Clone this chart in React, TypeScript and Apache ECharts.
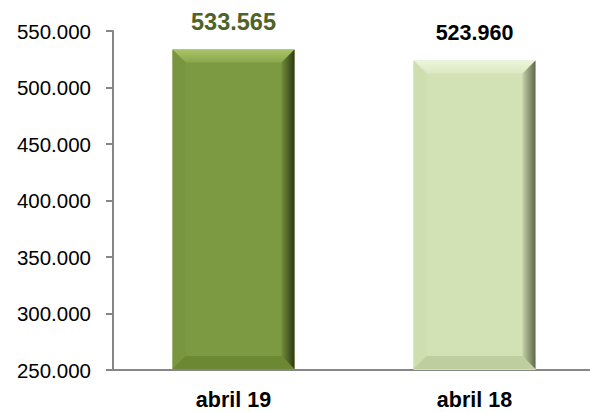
import React, { useEffect, useRef } from "react";
import * as echarts from "echarts";

const categories = ["abril 19", "abril 18"];
const values = [533565, 523960];
const yTicks = { min: 250000, max: 550000, interval: 50000 };

const barColors = ["#7C9A41", "#D3E2B5"];
const labelColors = ["#4F6228", "#000000"];
const labelSizes = [23.5, 21.5];
const bevelTop = [
  ["#A9C567", "#8AA74D"],
  ["#EDF5DA", "#DCE9C3"],
];
const bevelRight = [
  ["#718D39", "#2E3A14"],
  ["#C3D1A7", "#5E684C"],
];
const bevelBottom = ["#6C8832", "#BFCE9F"];
const bevelLeft = ["#79963F", "#CFDEAF"];

const FONT = "'Liberation Sans', Arial, sans-serif";

const fmt = (v: number) => {
  const s = Math.round(v).toString();
  return s.replace(/\B(?=(\d{3})+(?!\d))/g, ".");
};

export default function App() {
  const ref = useRef<HTMLDivElement>(null);
  useEffect(() => {
    document.body.style.margin = "0";
    const chart = echarts.init(ref.current!, null, { renderer: "svg" });
    const BW = 0.506;
    chart.setOption({
      animation: false,
      backgroundColor: "#ffffff",
      grid: { left: 113, top: 31, width: 482, height: 339, outerBoundsMode: "none", containLabel: false },
      xAxis: {
        type: "category",
        data: categories,
        axisLine: { lineStyle: { color: "#868686", width: 2 } },
        axisTick: { show: false },
        axisLabel: {
          margin: 19,
          color: "#000",
          fontFamily: FONT,
          fontWeight: "bold",
          fontSize: 21.5,
        },
      },
      yAxis: {
        type: "value",
        min: yTicks.min,
        max: yTicks.max,
        interval: yTicks.interval,
        splitLine: { show: false },
        axisLine: { show: true, lineStyle: { color: "#868686", width: 2 } },
        axisTick: { show: true, length: 7, lineStyle: { color: "#868686", width: 2 } },
        axisLabel: {
          margin: 22,
          color: "#000",
          fontFamily: FONT,
          fontSize: 20.5,
          formatter: (v: number) => fmt(v),
        },
      },
      series: [
        {
          type: "bar",
          barWidth: (BW * 100).toFixed(1) + "%",
          data: values.map((v, i) => ({
            value: v,
            itemStyle: { color: barColors[i] },
            label: {
              show: true,
              position: "top",
              distance: 16,
              color: labelColors[i],
              fontSize: labelSizes[i],
              fontWeight: "bold",
              fontFamily: FONT,
              formatter: () => fmt(v),
            },
          })),
        },
        {
          type: "custom",
          silent: true,
          z: 3,
          encode: { x: 0, y: 1 },
          data: values.map((v, i) => [i, v]),
          renderItem: (params: any, api: any) => {
            const idx = api.value(0);
            const val = api.value(1);
            const top = api.coord([idx, val]);
            const base = api.coord([idx, yTicks.min]);
            const band = api.size([1, 0])[0];
            const w = band * BW;
            const x0 = top[0] - w / 2;
            const x1 = top[0] + w / 2;
            const y0 = top[1];
            const y1 = base[1] - 1;
            const b = 13;
            const i = params.dataIndex;
            return {
              type: "group",
              children: [
                {
                  type: "polygon",
                  shape: { points: [[x0, y0], [x1, y0], [x1 - b, y0 + b], [x0 + b, y0 + b]] },
                  style: {
                    fill: new echarts.graphic.LinearGradient(0, 0, 0, 1, [
                      { offset: 0, color: bevelTop[i][0] },
                      { offset: 1, color: bevelTop[i][1] },
                    ]),
                  },
                },
                {
                  type: "polygon",
                  shape: { points: [[x0, y0], [x0 + b, y0 + b], [x0 + b, y1 - b], [x0, y1]] },
                  style: { fill: bevelLeft[i] },
                },
                {
                  type: "polygon",
                  shape: { points: [[x0, y1], [x1, y1], [x1 - b, y1 - b], [x0 + b, y1 - b]] },
                  style: { fill: bevelBottom[i] },
                },
                {
                  type: "polygon",
                  shape: { points: [[x1, y0], [x1, y1], [x1 - b, y1 - b], [x1 - b, y0 + b]] },
                  style: {
                    fill: new echarts.graphic.LinearGradient(0, 0, 1, 0, [
                      { offset: 0, color: bevelRight[i][0] },
                      { offset: 1, color: bevelRight[i][1] },
                    ]),
                  },
                },
              ],
            };
          },
        },
      ],
    });
    return () => chart.dispose();
  }, []);
  return <div ref={ref} style={{ width: 590, height: 412 }} />;
}
